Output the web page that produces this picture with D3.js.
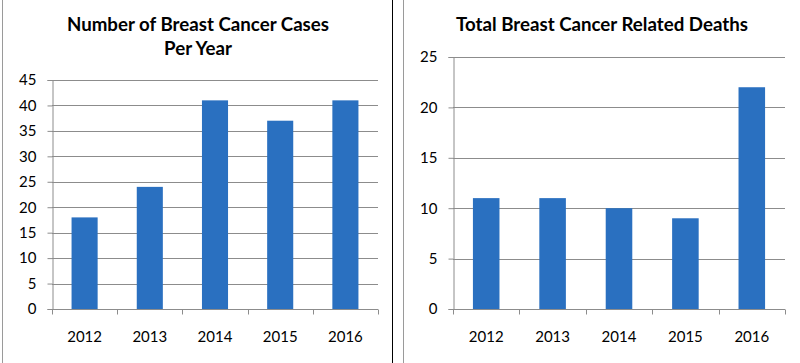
<!DOCTYPE html>
<html><head><meta charset="utf-8">
<script src="https://cdn.jsdelivr.net/npm/d3@7/dist/d3.min.js"></script>
<style>body{margin:0;background:#fff}svg{display:block}</style>
</head><body>
<svg id="c" width="800" height="363"></svg>
<script>
const years = ["2012","2013","2014","2015","2016"];
const cases = [18, 24, 41, 37, 41];
const deaths = [11, 11, 10, 9, 22];
const casesTicks = [0,5,10,15,20,25,30,35,40,45];
const deathsTicks = [0,5,10,15,20,25];
const casesTitle = ["Number of Breast Cancer Cases","Per Year"];
const deathsTitle = ["Total Breast Cancer Related Deaths"];

const svg = d3.select("#c");
const FONT = "Lato, 'Open Sans', sans-serif";
const BAR = "#2a70c0";
const GRID = "#8c8c8c";
const TICKSIZE = 15;

// panel borders
svg.append("line").attr("x1",2.5).attr("x2",2.5).attr("y1",0).attr("y2",363).attr("stroke","#9a9a9a");
svg.append("line").attr("x1",392.5).attr("x2",392.5).attr("y1",0).attr("y2",363).attr("stroke","#000");
svg.append("line").attr("x1",403.5).attr("x2",403.5).attr("y1",0).attr("y2",363).attr("stroke","#9a9a9a");

function panel(cfg){
  const g = svg.append("g");
  const x = d3.scaleBand().domain(years).range([cfg.x0, cfg.x1]).paddingInner(0.6).paddingOuter(0.3);
  const y = d3.scaleLinear().domain([0, d3.max(cfg.ticks)]).range([cfg.y0, cfg.yTop]);
  // gridlines
  g.selectAll(".grid").data(cfg.ticks.slice(1)).join("line")
    .attr("x1", cfg.x0).attr("x2", cfg.x1)
    .attr("y1", d=>Math.round(y(d))+0.5).attr("y2", d=>Math.round(y(d))+0.5)
    .attr("stroke", GRID).attr("stroke-width",1);
  // y axis
  const ya = g.append("g").attr("transform",`translate(${cfg.x0+0.5},0)`)
    .call(d3.axisLeft(y).tickValues(cfg.ticks).tickSize(5).tickPadding(11));
  ya.select(".domain").attr("stroke",GRID);
  ya.selectAll(".tick line").attr("stroke",GRID);
  ya.selectAll("text").attr("font-family",FONT).attr("font-size",TICKSIZE).attr("fill","#000");
  // bars
  g.selectAll(".bar").data(cfg.values).join("rect")
    .attr("x",(d,i)=>x(years[i])).attr("width",x.bandwidth())
    .attr("y",d=>y(d)).attr("height",d=>y(0)-y(d))
    .attr("fill",BAR);
  // x axis
  const step = (cfg.x1-cfg.x0)/years.length;
  const xa = g.append("g").attr("transform",`translate(0,${Math.round(y(0))+0.5})`)
    .call(d3.axisBottom(x).tickSize(0).tickPadding(22));
  xa.select(".domain").attr("stroke",GRID).attr("d",`M${cfg.x0},0H${cfg.x1}`);
  xa.selectAll("text").attr("font-family",FONT).attr("font-size",TICKSIZE).attr("fill","#000");
  g.selectAll(".xt").data(d3.range(years.length+1)).join("line")
    .attr("x1",i=>Math.round(cfg.x0+i*step)+0.5).attr("x2",i=>Math.round(cfg.x0+i*step)+0.5)
    .attr("y1",Math.round(y(0))+0.5).attr("y2",Math.round(y(0))+5.5).attr("stroke",GRID);
  // title
  g.selectAll(".t").data(cfg.title).join("text")
    .attr("x",cfg.tx).attr("y",(d,i)=>cfg.ty+i*24).attr("text-anchor","middle")
    .attr("font-family",FONT).attr("font-weight","bold").attr("font-size",cfg.tsize)
    .attr("fill","#000").text(d=>d);
}

panel({x0:52, x1:378, y0:309, yTop:80, ticks:casesTicks, values:cases, title:casesTitle, tx:198, ty:31, tsize:18.7});
panel({x0:453, x1:785, y0:309, yTop:57, ticks:deathsTicks, values:deaths, title:deathsTitle, tx:602, ty:31, tsize:18.7});
</script>
</body></html>
